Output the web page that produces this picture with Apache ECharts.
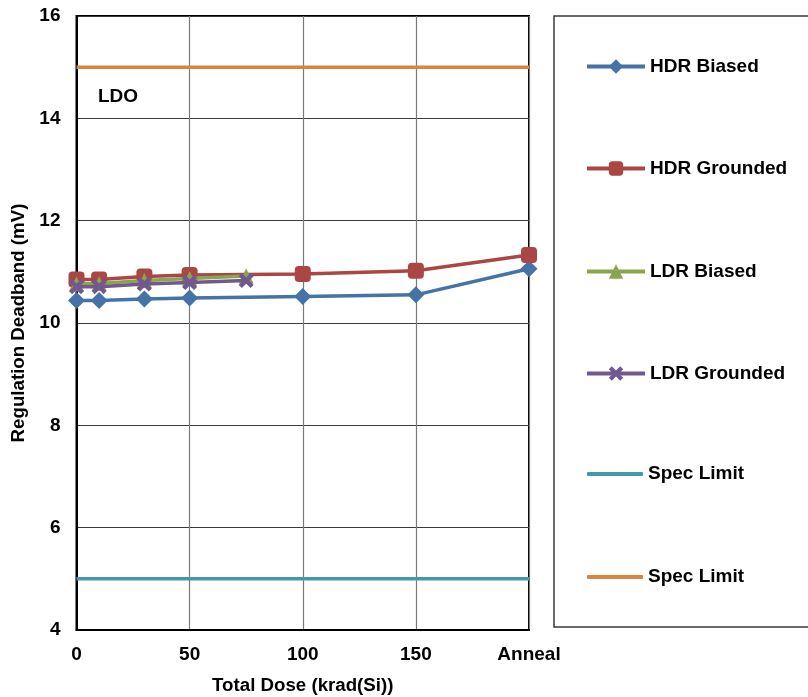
<!DOCTYPE html>
<html>
<head>
<meta charset="utf-8">
<script src="https://cdn.jsdelivr.net/npm/echarts@6/dist/echarts.min.js"></script>
<style>html,body{margin:0;padding:0;background:#fff;}#c{width:808px;height:697px;}</style>
</head>
<body>
<div id="c"></div>
<script>
// Data
const doseHDR = [0, 10, 30, 50, 100, 150, 200]; // 200 = Anneal
const doseLDR = [0, 10, 30, 50, 75];
const hdrBiased   = [10.44, 10.44, 10.47, 10.49, 10.52, 10.55, 11.06];
const hdrGrounded = [10.85, 10.85, 10.91, 10.94, 10.96, 11.02, 11.33];
const ldrBiased   = [10.76, 10.77, 10.83, 10.87, 10.92];
const ldrGrounded = [10.71, 10.71, 10.76, 10.79, 10.83];
const specLow = 5;
const specHigh = 15;
const specRange = [0, 200];
const xTickLabels = {0: '0', 50: '50', 100: '100', 150: '150', 200: 'Anneal'};
const legendNames = ['HDR Biased', 'HDR Grounded', 'LDR Biased', 'LDR Grounded', 'Spec Limit #1', 'Spec Limit #2'];

const FONT = 'Liberation Sans, Arial, sans-serif';
const FS = 19;
const zip = (xs, ys) => xs.map((x, i) => [x, ys[i]]);
const xPath = 'path://M2.5,0 L6,3.5 L9.5,0 L12,2.5 L8.5,6 L12,9.5 L9.5,12 L6,8.5 L2.5,12 L0,9.5 L3.5,6 L0,2.5 Z';

const legendCenters = [66, 168, 271, 373, 474, 577];
const legends = legendNames.map((n, i) => {
  const isSpec = i >= 4;
  const h = isSpec ? 4 : 18;
  return {
    orient: 'vertical', left: isSpec ? 587 : 585, top: legendCenters[i] - (isSpec ? FS * 1.1 / 2 : 9), padding: 0,
    itemWidth: isSpec ? 56 : 58, itemHeight: h,
    icon: isSpec ? 'roundRect' : undefined,
    lineStyle: {width: 4},
    textStyle: {fontFamily: FONT, fontWeight: 'bold', fontSize: FS, color: '#000', lineHeight: isSpec ? FS * 1.1 : 18},
    formatter: s => s.replace(/ #\d$/, ''),
    data: [n]
  };
});

const chart = echarts.init(document.getElementById('c'), null, {renderer: 'canvas'});
chart.setOption({
  animation: false,
  backgroundColor: '#fff',
  grid: {left: 76.5, right: 279, top: 16, bottom: 67, outerBoundsMode: 'none', containLabel: false,
    show: true, borderColor: '#000', borderWidth: 2, backgroundColor: 'transparent'},
  xAxis: {
    type: 'value', min: 0, max: 200, interval: 50,
    name: 'Total Dose (krad(Si))', nameLocation: 'middle', nameGap: 46,
    nameTextStyle: {fontFamily: FONT, fontWeight: 'bold', fontSize: 18.7, color: '#000'},
    axisLine: {show: true, lineStyle: {color: '#000', width: 2}},
    axisTick: {show: false},
    axisLabel: {margin: 15, fontFamily: FONT, fontWeight: 'bold', fontSize: FS, color: '#000',
      formatter: v => xTickLabels[v] !== undefined ? xTickLabels[v] : ''},
    splitLine: {show: true, lineStyle: {color: '#7a7a7a', width: 1.2}}
  },
  yAxis: {
    type: 'value', min: 4, max: 16, interval: 2,
    name: 'Regulation Deadband (mV)', nameLocation: 'middle', nameGap: 45,
    nameTextStyle: {fontFamily: FONT, fontWeight: 'bold', fontSize: 18.7, color: '#000'},
    axisLine: {show: true, lineStyle: {color: '#000', width: 2}},
    axisTick: {show: false},
    axisLabel: {margin: 16, fontFamily: FONT, fontWeight: 'bold', fontSize: FS, color: '#000'},
    splitLine: {show: true, lineStyle: {color: '#3a3a3a', width: 1.2}}
  },
  legend: legends,
  graphic: [
    {type: 'rect', shape: {x: 554, y: 16, width: 300, height: 611}, style: {fill: 'none', stroke: '#3a3a3a', lineWidth: 1.5}, silent: true},
    {type: 'text', left: 98, top: 87, style: {text: 'LDO', font: 'bold ' + FS + 'px ' + FONT, fill: '#000'}}
  ],
  series: [
    {name: 'Spec Limit #1', type: 'line', data: specRange.map(x => [x, specLow]), symbol: 'none',
      lineStyle: {color: '#4198AF', width: 3.5}, itemStyle: {color: '#4198AF'}, z: 1},
    {name: 'Spec Limit #2', type: 'line', data: specRange.map(x => [x, specHigh]), symbol: 'none',
      lineStyle: {color: '#DB843D', width: 3.5}, itemStyle: {color: '#DB843D'}, z: 1},
    {name: 'HDR Biased', type: 'line', data: zip(doseHDR, hdrBiased), symbol: 'diamond', symbolSize: 17,
      lineStyle: {color: '#4572A7', width: 3.5}, itemStyle: {color: '#4572A7'}, z: 2},
    {name: 'HDR Grounded', type: 'line', data: zip(doseHDR, hdrGrounded), symbol: 'roundRect', symbolSize: 16,
      lineStyle: {color: '#AA4643', width: 3.5}, itemStyle: {color: '#AA4643'}, z: 2},
    {name: 'LDR Biased', type: 'line', data: zip(doseLDR, ldrBiased), symbol: 'triangle', symbolSize: 15,
      lineStyle: {color: '#89A54E', width: 3.5}, itemStyle: {color: '#89A54E'}, z: 3},
    {name: 'LDR Grounded', type: 'line', data: zip(doseLDR, ldrGrounded), symbol: xPath, symbolSize: 15,
      lineStyle: {color: '#71588F', width: 3.5}, itemStyle: {color: '#71588F'}, z: 4}
  ]
});
</script>
</body>
</html>
